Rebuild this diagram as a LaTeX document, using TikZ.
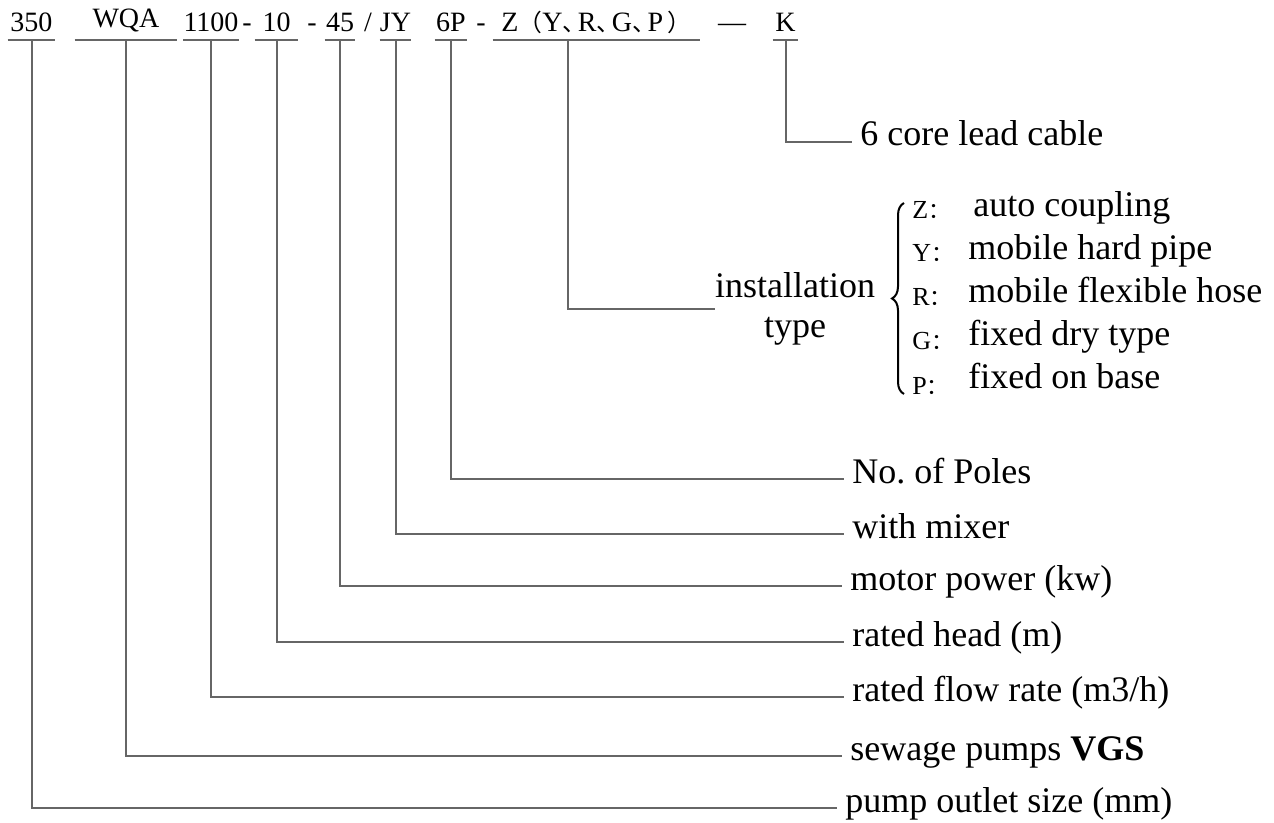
\documentclass[tikz,border=0pt]{standalone}
\usepackage{fontspec}
\setmainfont{Liberation Serif}
\newfontfamily\cjk[Scale=0.85]{Noto Sans CJK SC}
\usetikzlibrary{decorations.pathreplacing}
\newcommand\codefont{\fontsize{14pt}{16pt}\selectfont}
\newcommand\lblfont{\fontsize{18pt}{20pt}\selectfont}
\newcommand\dun{{\cjk 、}\kern-.3em}
\tikzset{code/.style={font=\codefont, anchor=south, inner xsep=0pt, inner ysep=4pt, text depth=0pt},
	sep/.style={font=\codefont, anchor=base, inner sep=0pt},
	lbl/.style={font=\lblfont, anchor=base west, inner xsep=4pt, inner ysep=0pt, text height=.7em, text depth=.3em},
	key/.style={font=\fontsize{13pt}{15pt}\selectfont, anchor=base west, inner sep=0pt},
	lead/.style={draw=black!60, line width=1pt}}

\begin{document}
\begin{tikzpicture}[x=0.5pt, y=-0.5pt]
	\useasboundingbox (0,0) rectangle (1274,823);
	%Codes
	\node[code, minimum width=23.5pt] (c350) at (31.5,40) {350};
	\node[code, minimum width=51pt, text depth=2pt] (cWQA) at (126,40) {WQA};
	\node[code, minimum width=24pt] (c1100) at (211,40) {1100};
	\node[sep] (d1) at (247,32) {-};
	\node[code, minimum width=21.5pt] (c10) at (276.5,40) {10};
	\node[sep] (d2) at (312,32) {-};
	\node[code, minimum width=15pt] (c45) at (340,40) {45};
	\node[sep] (sl) at (368,32) {/};
	\node[code, minimum width=12.5pt] (cJY) at (395.5,40) {JY};
	\node[code, minimum width=16pt] (c6P) at (451,40) {6P};
	\node[sep] (d3) at (481,32) {-};
	\node[code, minimum width=103.5pt] (cZ) at (596.5,40) {Z{\cjk （}Y\dun R\dun G\dun P\,{\cjk ）}};
	\node[sep] (d4) at (732,32) {—};
	\node[code, minimum width=12.5pt] (cK) at (785.5,40) {K};
	%Underlines
	\foreach \c in {c350,cWQA,c1100,c10,c45,cJY,c6P,cZ,cK}
		\draw[lead] (\c.south west) -- (\c.south east);
	%Labels
	\node[lbl] (lCable) at (852,146) {6 core lead cable};
	\node[font=\lblfont, align=center, inner sep=0pt] (lInst) at (795,309) {installation\\type};
	\node[lbl] (lPoles) at (844,483) {No.\ of Poles};
	\node[lbl] (lMixer) at (844,538) {with mixer};
	\node[lbl] (lPower) at (842,590) {motor power (kw)};
	\node[lbl] (lHead) at (844,646) {rated head (m)};
	\node[lbl] (lFlow) at (844,701) {rated flow rate (m3/h)};
	\node[lbl] (lPump) at (842,760) {sewage pumps \textbf{VGS}};
	\node[lbl] (lSize) at (837,812) {pump outlet size (mm)};
	%Installation types
	\draw[line width=1pt, decorate, decoration={brace, amplitude=6pt}] (904,394) -- (904,203);
	\node[key] (kZ) at (912,219) {Z{\cjk ：}};
	\node[key] (kY) at (912,262) {Y{\cjk ：}};
	\node[key] (kR) at (912,306) {R{\cjk ：}};
	\node[key] (kG) at (912,350) {G{\cjk ：}};
	\node[key] (kP) at (912,394) {P{\cjk ：}};
	\node[lbl] (tZ) at (965,217) {auto coupling};
	\node[lbl] (tY) at (960,260) {mobile hard pipe};
	\node[lbl] (tR) at (960,303) {mobile flexible hose};
	\node[lbl] (tG) at (960,346) {fixed dry type};
	\node[lbl] (tP) at (960,389) {fixed on base};
	%Lines
	\draw[lead] (cK.south) |- (lCable.west);
	\draw[lead] ([xshift=37.5pt]cZ.south west) |- (lInst.west);
	\draw[lead] (c6P.south) |- (lPoles.west);
	\draw[lead] (cJY.south) |- (lMixer.west);
	\draw[lead] (c45.south) |- (lPower.west);
	\draw[lead] (c10.south) |- (lHead.west);
	\draw[lead] (c1100.south) |- (lFlow.west);
	\draw[lead] (cWQA.south) |- (lPump.west);
	\draw[lead] (c350.south) |- (lSize.west);
\end{tikzpicture}
\end{document}
